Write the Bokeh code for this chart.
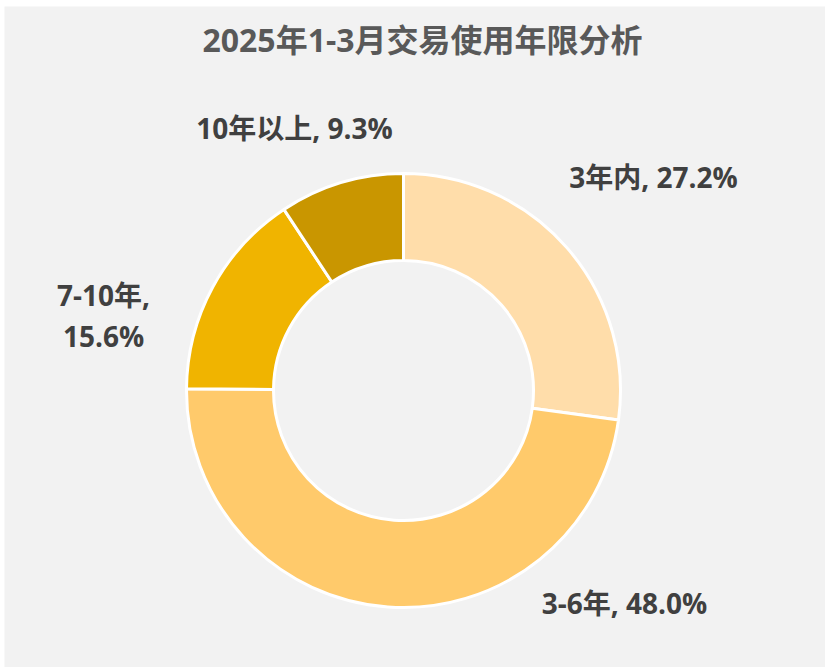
import numpy as np
from bokeh.plotting import figure
from bokeh.models import Range1d, ColumnDataSource
from bokeh.core.properties import value
from bokeh.embed import file_html
from bokeh.resources import INLINE

title = "2025年1-3月交易使用年限分析"
categories = ["3年内", "3-6年", "7-10年", "10年以上"]
shares = [27.2, 48.0, 15.6, 9.3]
colors = ["#FFDDAA", "#FFCA6B", "#F0B400", "#C99600"]
label_texts = ["3年内, 27.2%", "3-6年, 48.0%", "7-10年,\n15.6%", "10年以上, 9.3%"]

W, H = 825, 667
FONT = "'Open Sans', 'Noto Sans CJK SC', sans-serif"
p = figure(width=W, height=H, output_backend="svg", toolbar_location=None,
           x_range=Range1d(4, W), y_range=Range1d(0, H - 6),
           min_border_left=4, min_border_top=6, min_border_right=0, min_border_bottom=0,
           background_fill_color="#F2F2F2", border_fill_color="white",
           outline_line_color=None)
p.axis.visible = False
p.grid.visible = False

vals = np.array(shares, dtype=float)
frac = vals / vals.sum()
cum = np.concatenate([[0], np.cumsum(frac)])
start = np.pi / 2 - cum[:-1] * 2 * np.pi
end = np.pi / 2 - cum[1:] * 2 * np.pi

cx, cy = 403, H - 390
src = ColumnDataSource(dict(x=[cx] * 4, y=[cy] * 4, start=start, end=end, color=colors))
p.annular_wedge(x="x", y="y", inner_radius=130, outer_radius=217,
                inner_radius_units="screen", outer_radius_units="screen",
                start_angle="start", end_angle="end", direction="clock",
                fill_color="color", line_color="white", line_width=3, source=src)

lx = [653, 624, 103, 294]
ly = [H - 176, H - 602, H - 315, H - 127]
p.text(x=lx, y=ly, text=label_texts, text_align="center", text_baseline="middle",
       text_font=value(FONT), text_font_style="bold",
       text_font_size="28px", text_color="#404040", text_line_height=1.07)

p.text(x=[422], y=[H - 39], text=[title], text_align="center",
       text_baseline="middle", text_font=value(FONT),
       text_font_style="bold", text_font_size="32px", text_color="#595959")

open("out.html", "w").write(file_html(p, INLINE))
